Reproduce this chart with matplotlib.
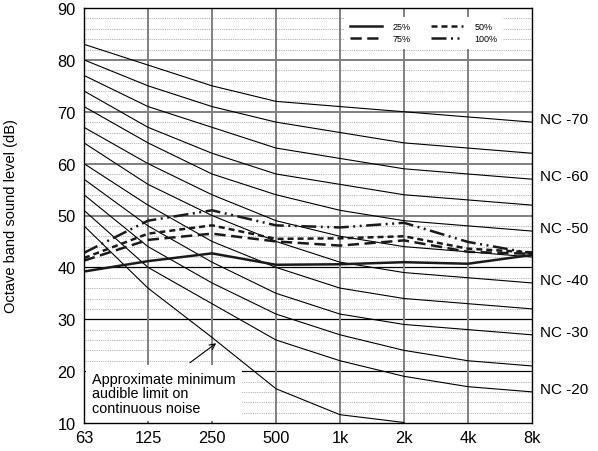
import matplotlib
matplotlib.use("Agg")
import matplotlib.pyplot as plt
from matplotlib import transforms

plt.rcParams['font.family'] = ['Liberation Sans', 'DejaVu Sans']

# Octave band centre frequencies (Hz)
bands = ["63", "125", "250", "500", "1k", "2k", "4k", "8k"]

# Noise criterion curves (dB per octave band)
nc20 = [51, 40, 33, 26, 22, 19, 17, 16]
nc25 = [54, 44, 37, 31, 27, 24, 22, 21]
nc30 = [57, 48, 41, 35, 31, 29, 28, 27]
nc35 = [60, 52, 45, 40, 36, 34, 33, 32]
nc40 = [64, 56, 50, 45, 41, 39, 38, 37]
nc45 = [67, 60, 54, 49, 46, 44, 43, 42]
nc50 = [71, 64, 58, 54, 51, 49, 48, 47]
nc55 = [74, 67, 62, 58, 56, 54, 53, 52]
nc60 = [77, 71, 67, 63, 61, 59, 58, 57]
nc65 = [80, 75, 71, 68, 66, 64, 63, 62]
nc70 = [83, 79, 75, 72, 71, 70, 69, 68]

# Approximate minimum audible limit on continuous noise (63 Hz .. 2 kHz)
threshold = [48, 36, 26.5, 16.6, 11.6, 10.1]

# Measured spectra at different operating levels
p25 = [39.2, 41.2, 42.7, 40.5, 40.6, 41.0, 40.7, 42.4]
p50 = [41.8, 46.5, 48.1, 45.5, 45.6, 46.0, 43.6, 42.9]
p75 = [41.3, 45.3, 46.5, 45.0, 44.2, 45.2, 43.0, 42.6]
p100 = [42.8, 49.0, 51.0, 48.1, 47.7, 48.6, 44.9, 42.7]

nc_curves = [(20, nc20), (25, nc25), (30, nc30), (35, nc35), (40, nc40),
             (45, nc45), (50, nc50), (55, nc55), (60, nc60), (65, nc65),
             (70, nc70)]

fig = plt.figure(figsize=(5.98, 4.52), dpi=100)
ax = fig.add_axes([84 / 598, 28 / 452, 448 / 598, 415 / 452])

x = list(range(len(bands)))

# grid: dotted every 2 dB, solid every 10 dB, solid at each octave band
for v in range(12, 90, 2):
    if v % 10:
        ax.axhline(v, color='#9a9a9a', lw=0.6, ls=(0, (1, 1.2)), zorder=0.5)
for v in range(20, 90, 10):
    if v <= 40:
        ax.axhline(v, color='black', lw=0.9, zorder=0.6)
    else:
        ax.axhline(v, color='#808080', lw=1.4, zorder=0.6)
for i in x[1:-1]:
    ax.axvline(i, color='#808080', lw=1.4, zorder=0.6)

# NC curves
for rating, vals in nc_curves:
    ax.plot(x, vals, color='black', lw=0.8, zorder=2)
ax.plot(x[:len(threshold)], threshold, color='black', lw=0.8, zorder=2)

# measured spectra
h25, = ax.plot(x, p25, color='#1a1a1a', lw=1.8, ls='-', zorder=3)
h50, = ax.plot(x, p50, color='#1a1a1a', lw=1.8, ls=(0, (2.4, 1.6)), zorder=3)
h75, = ax.plot(x, p75, color='#1a1a1a', lw=1.8, ls=(0, (4.5, 2.2)), zorder=3)
h100, = ax.plot(x, p100, color='#1a1a1a', lw=1.8,
                ls=(0, (6, 1.8, 0.8, 1.8, 0.8, 1.8)), zorder=3)

leg = ax.legend([h25, h75, h50, h100], ['25%', '75%', '50%', '100%'],
                ncol=2, loc='upper right', bbox_to_anchor=(0.945, 0.99),
                fontsize=6.5, frameon=True, fancybox=False, edgecolor='none',
                facecolor='white', framealpha=1, handlelength=3.6,
                columnspacing=2.2, handletextpad=1.2, borderpad=0.6,
                labelspacing=0.35)
leg.set_zorder(5)

# annotation for the hearing threshold curve
ax.text(0.125, 19.9, "Approximate minimum\naudible limit on\ncontinuous noise",
        fontsize=10.4, va='top', ha='left', linespacing=1.05,
        bbox=dict(facecolor='white', edgecolor='none', boxstyle='square,pad=0.45'),
        zorder=1, clip_on=True)
ax.annotate("", xy=(2.1, 25.7), xytext=(1.62, 21.3),
            arrowprops=dict(arrowstyle='->', color='black', lw=0.8), zorder=3)

# NC labels at the right of the curves
trans = transforms.blended_transform_factory(ax.transAxes, ax.transData)
for rating, vals in nc_curves:
    if rating % 10 == 0:
        ax.text(1.018, vals[-1] + 0.6, f"NC -{rating}", transform=trans,
                va='center', ha='left', fontsize=11)

ax.set_xlim(0, 7)
ax.set_ylim(10, 90)
ax.set_xticks(x, bands)
ax.set_yticks(range(10, 91, 10))
ax.tick_params(axis='both', length=0, labelsize=11.8)
ax.tick_params(axis='x', pad=5)
ax.tick_params(axis='y', pad=6)
for s in ax.spines.values():
    s.set_color('black')
    s.set_linewidth(1.0)
    s.set_zorder(4)

fig.text(11 / 598, 1 - 216.5 / 452, "Octave band sound level (dB)",
         rotation=90, va='center', ha='center', fontsize=10.5)

fig.savefig("out.png", dpi=100)
